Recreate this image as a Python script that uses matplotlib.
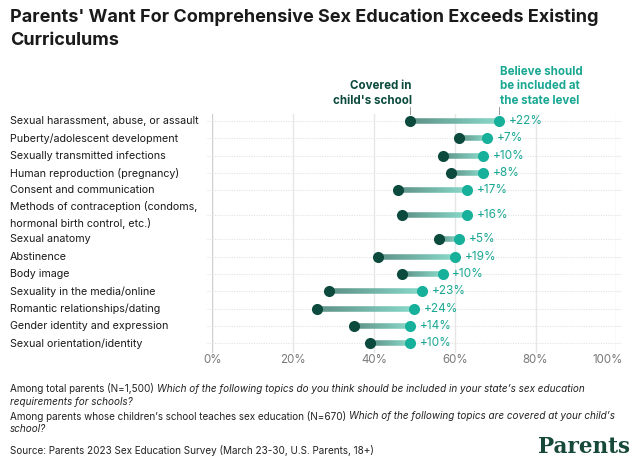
import matplotlib
matplotlib.use("Agg")
import matplotlib.pyplot as plt
import matplotlib.transforms as mtransforms
from matplotlib.collections import LineCollection
import matplotlib.colors as mcolors
import numpy as np

plt.rcParams['font.family'] = ['Inter', 'DejaVu Sans']

topics = [
    "Sexual harassment, abuse, or assault",
    "Puberty/adolescent development",
    "Sexually transmitted infections",
    "Human reproduction (pregnancy)",
    "Consent and communication",
    "Methods of contraception (condoms,\nhormonal birth control, etc.)",
    "Sexual anatomy",
    "Abstinence",
    "Body image",
    "Sexuality in the media/online",
    "Romantic relationships/dating",
    "Gender identity and expression",
    "Sexual orientation/identity",
]
covered = [49, 61, 57, 59, 46, 47, 56, 41, 47, 29, 26, 35, 39]
believe = [71, 68, 67, 67, 63, 63, 61, 60, 57, 52, 50, 49, 49]
deltas = ["+22%", "+7%", "+10%", "+8%", "+17%", "+16%", "+5%", "+19%", "+10%", "+23%", "+24%", "+14%", "+10%"]
xticks = [0, 20, 40, 60, 80, 100]
xtick_labels = ["0%", "20%", "40%", "60%", "80%", "100%"]

DARK = "#0b4a3d"
TEAL = "#17b09b"
TEAL_TXT = "#1aa893"

W, H = 640, 468
fig = plt.figure(figsize=(W / 100, H / 100), dpi=100)

# axes placement in pixels
x0px, x1px = 212.3, 616.3
ytop, ybot = 114, 353
ax = fig.add_axes([x0px / W, 1 - ybot / H, (x1px - x0px) / W, (ybot - ytop) / H])
ax.set_xlim(0, 100)

# row positions (two-line label gets extra room)
ypos = []
y = 0.0
for i, t in enumerate(topics):
    if i > 0:
        prev_two = "\n" in topics[i - 1]
        cur_two = "\n" in t
        y += 1.0 + (0.42 if cur_two else 0) + (0.38 if prev_two else 0)
    ypos.append(y)
ax.set_ylim(ypos[-1] + 0.55, -0.4)

for s in ax.spines.values():
    s.set_visible(False)
ax.set_xticks([])
ax.set_yticks([])

# vertical gridlines
for xt in xticks:
    ax.axvline(xt, color="#cfcfcf" if xt == 0 else "#e6e6e6", lw=1.0, zorder=0)

# horizontal dotted row lines
for yy in ypos:
    ax.plot([-1.3, 101.2], [yy, yy], color="#e2e2e2", lw=0.8, ls=(0, (1, 1.2)),
            zorder=0.5, clip_on=False)

# gradient connectors
c_start = np.array(mcolors.to_rgb("#5e9187"))
c_end = np.array(mcolors.to_rgb("#88d9c9"))
for c, b, yy in zip(covered, believe, ypos):
    n = 60
    xs = np.linspace(c, b, n + 1)
    segs = [[(xs[k], yy), (xs[k + 1], yy)] for k in range(n)]
    cols = [c_start + (c_end - c_start) * (k / (n - 1)) for k in range(n)]
    lc = LineCollection(segs, colors=cols, linewidths=4.0, zorder=2, capstyle="butt")
    ax.add_collection(lc)

ax.scatter(covered, ypos, s=64, color=DARK, zorder=3, linewidths=0)
ax.scatter(believe, ypos, s=64, color=TEAL, zorder=3, linewidths=0)

# delta labels
for b, yy, d in zip(believe, ypos, deltas):
    ax.annotate(d, (b, yy), xytext=(7, 0), textcoords="offset points",
                va="center", ha="left", fontsize=8.5, color=TEAL_TXT)

# row labels
trans = mtransforms.blended_transform_factory(fig.transFigure, ax.transData)
for t, yy in zip(topics, ypos):
    fig.text(10 / W, yy, t, transform=trans, ha="left", va="center",
             fontsize=7.7, color="#1a1a1a", linespacing=1.6)

# x tick labels
for xt, lab in zip(xticks, xtick_labels):
    ha = "right" if xt == 100 else "center"
    xo = 1.5 if xt == 100 else 0
    fig.text((x0px + (xt + xo) * (x1px - x0px) / 100) / W, 1 - 360 / H, lab,
             ha=ha, va="center", fontsize=8.3, color="#7a7a7a")

# series annotation headers
ax.plot([covered[0], covered[0]], [-0.4, -0.8], color="#999999", lw=0.7, clip_on=False)
ax.plot([believe[0], believe[0]], [-0.4, -0.8], color="#999999", lw=0.7, clip_on=False)
fig.text(412 / W, 1 - 107 / H, "Covered in\nchild's school", ha="right", va="bottom",
         fontsize=8.3, fontweight="bold", color=DARK, linespacing=1.3)
fig.text(500 / W, 1 - 107 / H, "Believe should\nbe included at\nthe state level",
         ha="left", va="bottom", fontsize=8.3, fontweight="bold", color=TEAL_TXT,
         linespacing=1.3)

# title
fig.text(10 / W, 1 - 8 / H, "Parents' Want For Comprehensive Sex Education Exceeds Existing\nCurriculums",
         ha="left", va="top", fontsize=13.0, fontweight="bold", color="#1a1a1a",
         linespacing=1.5)

# footnotes with mixed styles
fig.canvas.draw()
renderer = fig.canvas.get_renderer()
fs = 7.15
col = "#222222"


def mixed(xpx, ypx, parts):
    x = xpx / W
    for txt, style in parts:
        t = fig.text(x, 1 - ypx / H, txt, ha="left", va="center", fontsize=fs,
                     color=col, fontstyle=style)
        bb = t.get_window_extent(renderer=renderer)
        x = bb.x1 / W


mixed(10, 389, [("Among total parents (N=1,500) ", "normal"),
                ("Which of the following topics do you think should be included in your state\u2019s sex education", "italic")])
mixed(10, 402, [("requirements for schools?", "italic")])
mixed(10, 416, [("Among parents whose children\u2019s school teaches sex education (N=670) ", "normal"),
                ("Which of the following topics are covered at your child\u2019s", "italic")])
mixed(10, 429, [("school?", "italic")])
mixed(10, 450, [("Source: Parents 2023 Sex Education Survey (March 23-30, U.S. Parents, 18+)", "normal")])

fig.text(630 / W, 1 - 447 / H, "Parents", ha="right", va="center", fontsize=15.5,
         fontweight="bold", family="DejaVu Serif", color="#17493b")

fig.savefig("out.png", dpi=100)
